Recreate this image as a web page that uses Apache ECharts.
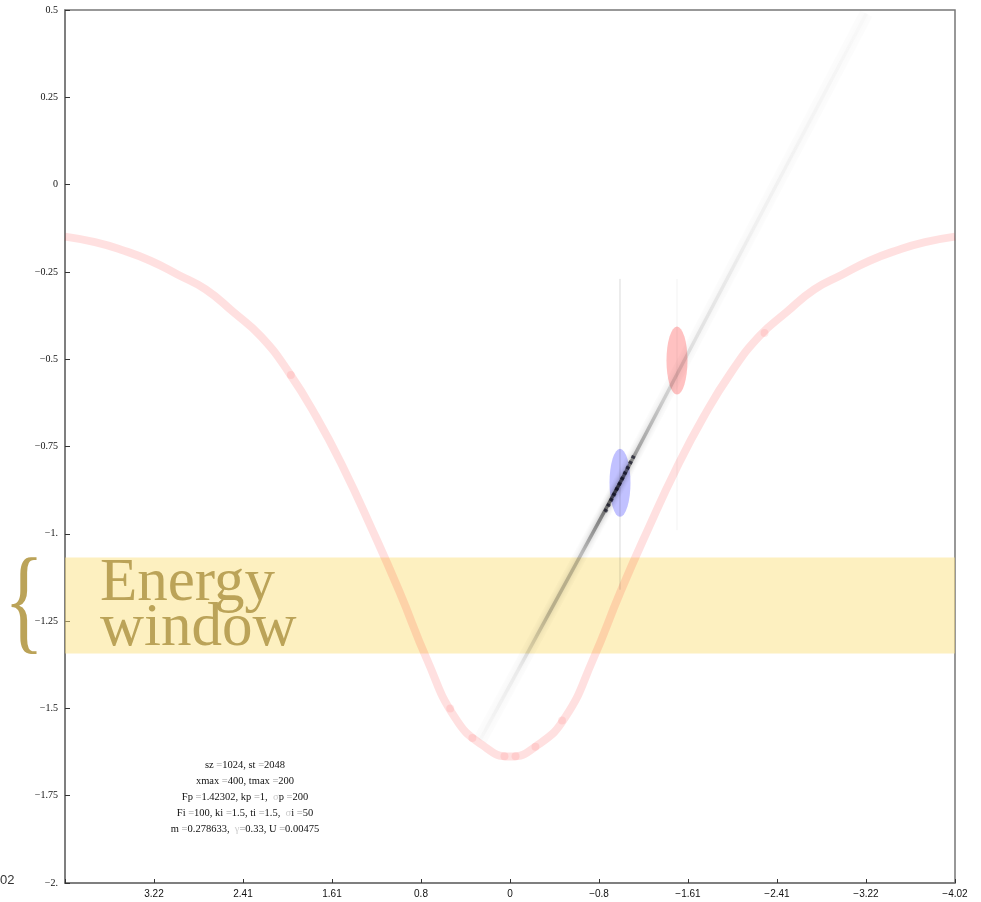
<!DOCTYPE html>
<html>
<head>
<meta charset="utf-8">
<script src="https://cdn.jsdelivr.net/npm/echarts@6/dist/echarts.min.js"></script>
<style>
  html, body { margin: 0; padding: 0; background: #fff; }
  #chart { width: 981px; height: 902px; }
</style>
</head>
<body>
<div id="chart"></div>
<script>
// Momentum axis ticks (k) and energy axis ticks (E)
const kStep = 0.804248;
const xTickLabels = ['\u22124.02', '\u22123.22', '\u22122.41', '\u22121.61', '\u22120.8', '0', '0.8', '1.61', '2.41', '3.22', ''];
const yTickLabels = ['\u22122.', '\u22121.75', '\u22121.5', '\u22121.25', '\u22121.', '\u22120.75', '\u22120.5', '\u22120.25', '0', '0.25', '0.5'];

// Dispersion curve E(k)
const curveK = [-4.02, -3.75, -3.5, -3.25, -3.0, -2.75, -2.5, -2.25, -2.0, -1.75, -1.5, -1.25, -1.0, -0.75, -0.5, -0.25,
                0, 0.25, 0.5, 0.75, 1.0, 1.25, 1.5, 1.75, 2.0, 2.25, 2.5, 2.75, 3.0, 3.25, 3.5, 3.75, 4.02];
const curveE = [-0.149, -0.165, -0.188, -0.218, -0.258, -0.300, -0.365, -0.435, -0.537, -0.665, -0.815, -0.985, -1.165, -1.360, -1.525, -1.605,
                -1.638, -1.605, -1.525, -1.360, -1.165, -0.985, -0.815, -0.665, -0.537, -0.435, -0.365, -0.300, -0.258, -0.218, -0.188, -0.165, -0.149];

// Segment joins along the curve
const jointK = [1.98, 0.54, 0.34, 0.05, -0.05, -0.23, -0.47, -2.30];
const jointE = [-0.545, -1.500, -1.585, -1.637, -1.637, -1.610, -1.535, -0.425];

// Wave-packet trace
const traceK = [0.27, -0.994, -1.58, -3.22];
const traceE = [-1.59, -0.854, -0.50, 0.49];
const beadK = [-0.86, -1.12];
const beadE = [-0.937, -0.776];

// Packet centres: probe (blue) and impurity (red)
const probeK = -0.994, probeE = -0.854;
const impK = -1.509, impE = -0.504;
const probeLineE = [-0.27, -1.16];
const impLineE = [-0.27, -0.99];

// Energy window
const windowE = [-1.068, -1.343];

const paramLines = [
  ['sz ', '=', '1024, st ', '=', '2048'],
  ['xmax ', '=', '400, tmax ', '=', '200'],
  ['Fp ', '=', '1.42302, kp ', '=', '1,  ', '\u03c3', 'p ', '=', '200'],
  ['Fi ', '=', '100, ki ', '=', '1.5, ti ', '=', '1.5,  ', '\u03c3', 'i ', '=', '50'],
  ['m ', '=', '0.278633,  ', '\u03b3', '=', '0.33, U ', '=', '0.00475']
];

function zip(a, b) { return a.map((v, i) => [v, b[i]]); }

function richLine(parts) {
  return parts.map(p => {
    if (p === '=') return '{e|=}';
    if (p === '\u03c3' || p === '\u03b3') return '{g|' + p + '}';
    return '{n|' + p + '}';
  }).join('');
}

const chart = echarts.init(document.getElementById('chart'), null, { renderer: 'canvas' });

const ink = '#bba358';
const graphics = [];
paramLines.forEach((parts, i) => {
  graphics.push({
    type: 'text', x: 245, y: 765 + i * 16, z: 100,
    style: {
      text: richLine(parts), textAlign: 'center', textVerticalAlign: 'middle',
      rich: {
        n: { fontFamily: 'Liberation Serif', fontSize: 10.5, fill: '#111' },
        e: { fontFamily: 'Liberation Serif', fontSize: 10.5, fill: '#999' },
        g: { fontFamily: 'Liberation Serif', fontSize: 10.5, fill: '#ccc' }
      }
    }
  });
});
graphics.push(
  { type: 'text', x: 100, y: 584, z: 100, style: { text: 'Energy', fontFamily: 'Liberation Serif', fontSize: 61, fill: ink, textVerticalAlign: 'middle' } },
  { type: 'text', x: 100, y: 629, z: 100, style: { text: 'window', fontFamily: 'Liberation Serif', fontSize: 61, fill: ink, textVerticalAlign: 'middle' } },
  { type: 'text', x: 24, y: 608, z: 100, scaleX: 0.72, style: { text: '{', fontFamily: 'Liberation Serif', fontSize: 116, fill: ink, textAlign: 'center', textVerticalAlign: 'middle' } },
  { type: 'text', x: 0, y: 880, z: 100, style: { text: '02', fontFamily: 'Liberation Sans', fontSize: 13, fill: '#333', textVerticalAlign: 'middle' } }
);

const option = {
  animation: false,
  backgroundColor: '#fff',
  grid: { left: 65, right: 26, top: 10, bottom: 19, show: true, borderColor: '#777', borderWidth: 1.5, backgroundColor: 'transparent' },
  xAxis: {
    type: 'value', inverse: true,
    min: -5 * kStep, max: 5 * kStep, interval: kStep,
    splitLine: { show: false },
    axisLine: { show: true, onZero: false, lineStyle: { color: '#777', width: 1.5 } },
    axisTick: { show: true, inside: true, length: 4, lineStyle: { color: '#333' } },
    axisLabel: {
      fontFamily: 'Liberation Sans', fontSize: 10, color: '#111', margin: 6,
      showMinLabel: true, showMaxLabel: true,
      formatter: v => xTickLabels[Math.round(v / kStep) + 5]
    }
  },
  yAxis: {
    type: 'value', min: -2, max: 0.5, interval: 0.25,
    splitLine: { show: false },
    axisLine: { show: true, onZero: false, lineStyle: { color: '#777', width: 1.5 } },
    axisTick: { show: true, inside: true, length: 5, lineStyle: { color: '#333' } },
    axisLabel: {
      fontFamily: 'Liberation Serif', fontSize: 10, color: '#111', margin: 7,
      formatter: v => yTickLabels[Math.round((v + 2) / 0.25)]
    }
  },
  graphic: graphics,
  series: [
    {
      name: 'window', type: 'line', data: [], silent: true,
      markArea: {
        silent: true,
        itemStyle: { color: 'rgba(252,226,130,0.5)' },
        data: [[{ yAxis: windowE[0] }, { yAxis: windowE[1] }]]
      }
    },
    {
      name: 'dispersion', type: 'line', data: zip(curveK, curveE), smooth: true,
      symbol: 'none', lineStyle: { color: 'rgba(255,0,0,0.12)', width: 8, cap: 'butt' }, silent: true
    },
    {
      name: 'joints', type: 'scatter', data: zip(jointK, jointE), symbol: 'circle', symbolSize: 8,
      itemStyle: { color: 'rgba(255,0,0,0.1)' }, silent: true
    },
    {
      name: 'trace-haze', type: 'line', data: zip(traceK, traceE), symbol: 'none',
      lineStyle: { color: 'rgba(0,0,0,0.012)', width: 14 }, silent: true
    },
    {
      name: 'trace', type: 'line', data: zip(traceK, traceE), symbol: 'none', silent: true,
      lineStyle: {
        width: 3.5,
        shadowColor: 'rgba(0,0,0,0.8)', shadowBlur: 5,
        color: new echarts.graphic.LinearGradient(0, 1, 1, 0, [
          { offset: 0.0, color: 'rgba(0,0,0,0.01)' },
          { offset: 0.10, color: 'rgba(0,0,0,0.05)' },
          { offset: 0.18, color: 'rgba(0,0,0,0.2)' },
          { offset: 0.26, color: 'rgba(0,0,0,0.2)' },
          { offset: 0.31, color: 'rgba(0,0,0,0.4)' },
          { offset: 0.35, color: 'rgba(0,0,0,0.65)' },
          { offset: 0.40, color: 'rgba(0,0,0,0.28)' },
          { offset: 0.47, color: 'rgba(0,0,0,0.14)' },
          { offset: 0.55, color: 'rgba(0,0,0,0.08)' },
          { offset: 0.70, color: 'rgba(0,0,0,0.035)' },
          { offset: 1.0, color: 'rgba(0,0,0,0.01)' }
        ])
      }
    },
    {
      name: 'beads', type: 'line', data: zip(beadK, beadE), symbol: 'none', silent: true,
      lineStyle: { color: 'rgba(0,0,20,0.6)', width: 4, type: [3, 3] }
    },
    {
      name: 'probe-line', type: 'line', data: zip([probeK, probeK], probeLineE), symbol: 'none', silent: true,
      lineStyle: { color: 'rgba(0,0,0,0.15)', width: 1 }
    },
    {
      name: 'imp-line', type: 'line', data: zip([impK, impK], impLineE), symbol: 'none', silent: true,
      lineStyle: { color: 'rgba(0,0,0,0.05)', width: 1 }
    },
    {
      name: 'packets', type: 'scatter', silent: true,
      data: [
        { value: [probeK, probeE], itemStyle: { color: 'rgba(70,70,255,0.42)' } },
        { value: [impK, impE], itemStyle: { color: 'rgba(255,70,70,0.42)' } }
      ],
      symbol: 'circle', symbolSize: [21, 68]
    }
  ]
};
chart.setOption(option);
</script>
</body>
</html>
